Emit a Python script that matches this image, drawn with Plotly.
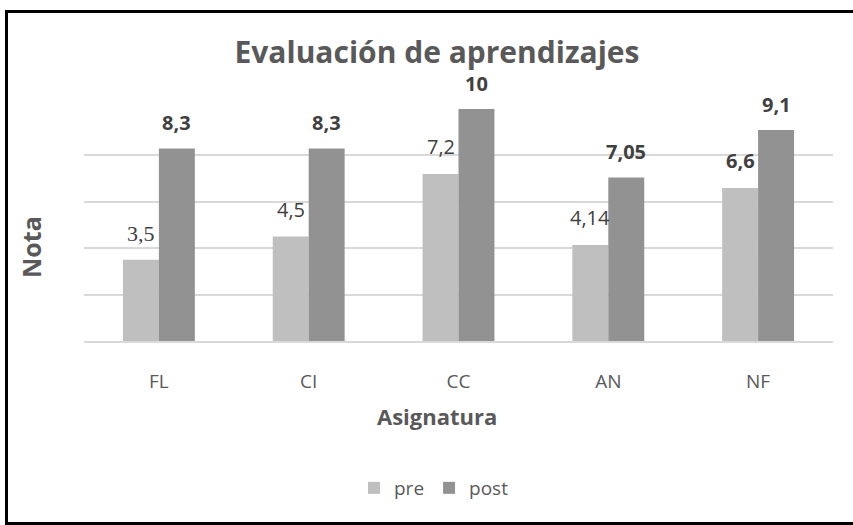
import plotly.graph_objects as go

categories = ["FL", "CI", "CC", "AN", "NF"]
pre = [3.5, 4.5, 7.2, 4.14, 6.6]
post = [8.3, 8.3, 10, 7.05, 9.1]
pre_labels = ["3,5", "4,5", "7,2", "4,14", "6,6"]
post_labels = ["8,3", "8,3", "10", "7,05", "9,1"]

# styles (not data)
pre_fonts = ["Liberation Serif, Times New Roman, serif", "Open Sans", "Open Sans", "Open Sans", "Open Sans"]
pre_weights = ["normal", "normal", "normal", "normal", "bold"]
pre_sizes = [22, 20, 20, 20, 20]

W, H = 853, 525
L, R, T, B = 84, 20, 109, 184
PW, PH = W - L - R, H - T - B

def px2paper(px, py):
    return (px - L) / PW, (H - B - py) / PH

fig = go.Figure()
fig.add_trace(go.Bar(x=categories, y=pre, name="pre", marker_color="#BFBFBF",
                     marker_line_width=0))
fig.add_trace(go.Bar(x=categories, y=post, name="post", marker_color="#929292",
                     marker_line_width=0))

ann = []
for i, c in enumerate(categories):
    ann.append(dict(x=c, y=pre[i], text=pre_labels[i], xref="x", yref="y",
                    showarrow=False, xshift=-18, yshift=12, yanchor="bottom",
                    font=dict(family=pre_fonts[i], size=pre_sizes[i], color="#404040",
                              weight=pre_weights[i])))
    ann.append(dict(x=c, y=post[i], text=post_labels[i], xref="x", yref="y",
                    showarrow=False, xshift=18, yshift=10, yanchor="bottom",
                    font=dict(family="Open Sans", size=20, color="#404040", weight="bold")))

nx, ny = px2paper(31, 247)
ann.append(dict(x=nx, y=ny, xref="paper", yref="paper", text="Nota", showarrow=False,
                xanchor="center", yanchor="middle", textangle=-90,
                font=dict(family="Open Sans", size=25, color="#595959", weight="bold")))
ax_, ay_ = px2paper(437, 416)
ann.append(dict(x=ax_, y=ay_, xref="paper", yref="paper", text="Asignatura", showarrow=False,
                xanchor="center", yanchor="middle",
                font=dict(family="Open Sans", size=22, color="#595959", weight="bold")))

x0, y0 = px2paper(6.5, 11.5)
x1, y1 = px2paper(856, 523.5)
shapes = [dict(type="rect", xref="paper", yref="paper", x0=x0, y0=y1, x1=x1, y1=y0,
               line=dict(color="black", width=3), fillcolor="rgba(0,0,0,0)", layer="above")]

lx, ly = px2paper(434, 488)

fig.update_layout(
    width=W, height=H,
    margin=dict(l=L, r=R, t=T, b=B, pad=0),
    paper_bgcolor="white", plot_bgcolor="white",
    barmode="group", bargap=0.52, bargroupgap=0,
    title=dict(text="Evaluación de aprendizajes", x=437 / W, xanchor="center",
               y=1 - 52 / H, yanchor="middle", xref="container", yref="container",
               font=dict(family="Open Sans", size=30, color="#595959", weight="bold")),
    xaxis=dict(showgrid=False, showline=True, linecolor="#D9D9D9", linewidth=1.5,
               ticks="outside", ticklen=22, tickcolor="rgba(0,0,0,0)",
               tickfont=dict(family="Open Sans", size=19, color="#595959")),
    yaxis=dict(range=[0, 10], dtick=2, showgrid=True, gridcolor="#D9D9D9", gridwidth=1.5,
               showticklabels=False, zeroline=False, showline=False),
    legend=dict(orientation="h", x=lx, y=ly, xanchor="center", yanchor="middle",
                font=dict(family="Open Sans", size=19, color="#595959"),
                itemwidth=30, tracegroupgap=0),
    showlegend=True,
    annotations=ann,
    shapes=shapes,
)

fig.write_html("out.html", config={"displayModeBar": False},
               post_script="document.body.style.margin='0';")
